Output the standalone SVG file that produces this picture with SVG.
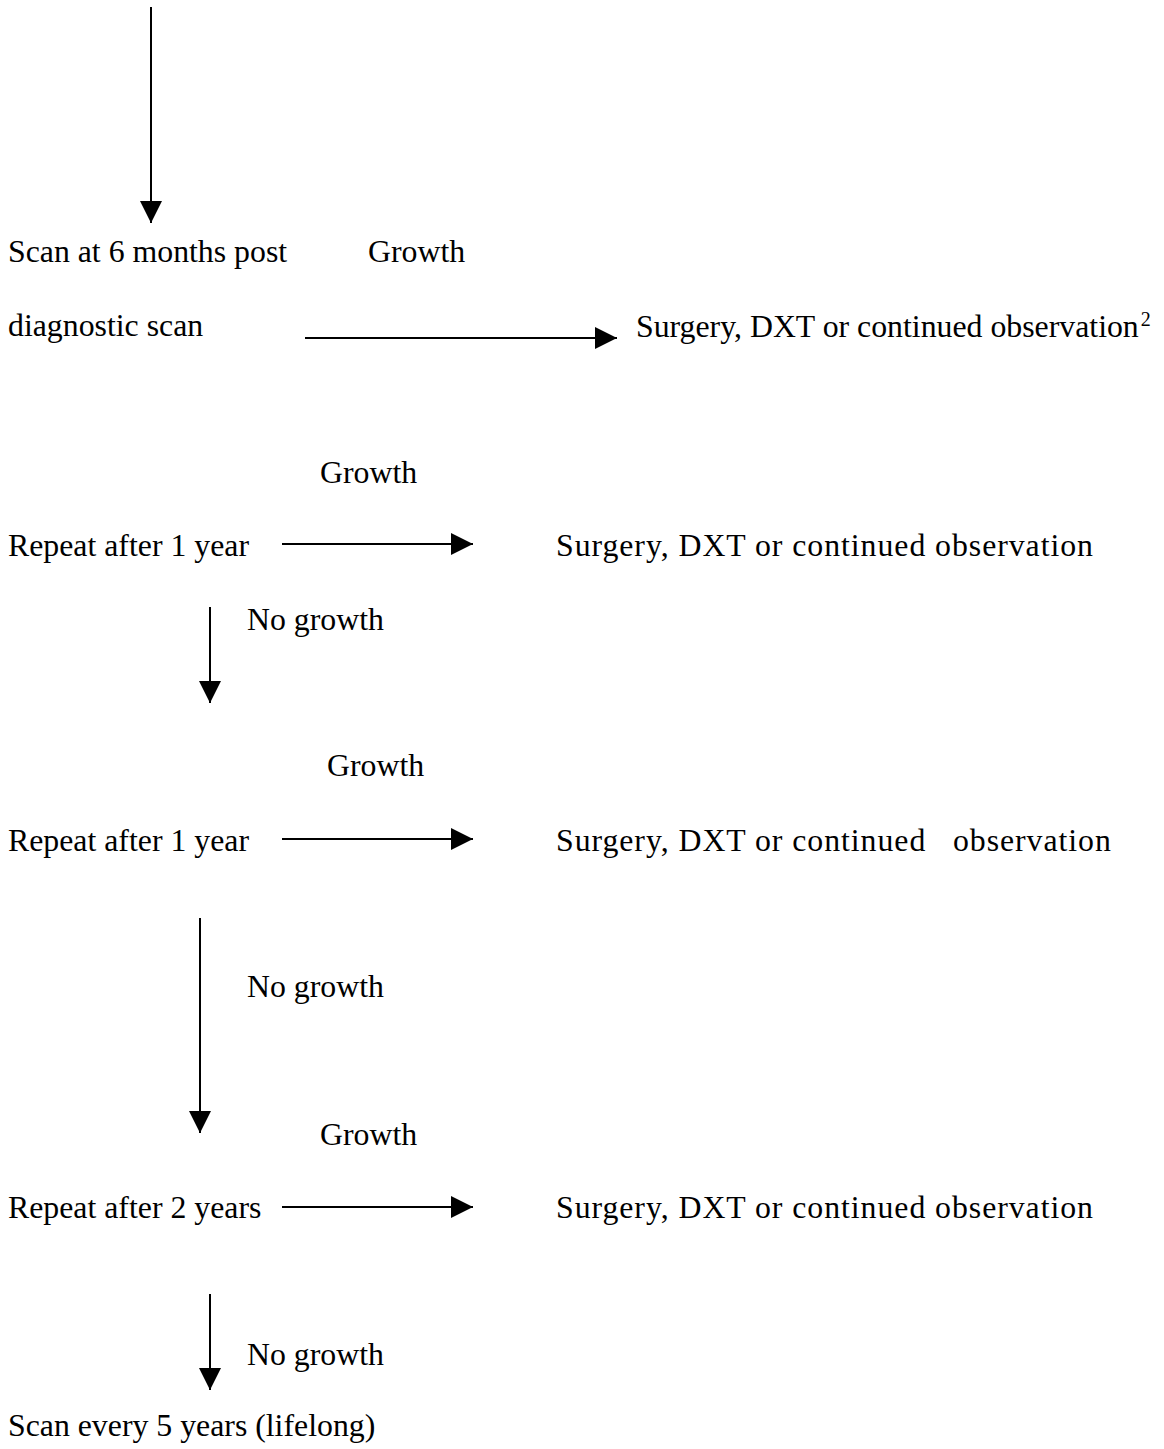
<svg xmlns="http://www.w3.org/2000/svg" width="1164" height="1449" viewBox="0 0 1164 1449">
<style>
text{font-family:"Liberation Serif","Times New Roman",serif;font-size:31.8px;fill:#000}
.r{letter-spacing:0.95px}
.c{stroke:#000;stroke-width:2;fill:none}
</style>
<defs>
<marker id="ah" markerUnits="userSpaceOnUse" markerWidth="22" markerHeight="22" refX="20" refY="10" orient="auto" viewBox="0 0 20 20">
<path d="M0,0 L20,10 L0,20 Z" fill="#000"/>
</marker>
</defs>
<rect width="1164" height="1449" fill="#fff"/>
<g id="connectors">
<line class="c" x1="151" y1="7" x2="151" y2="223" marker-end="url(#ah)"/>
<line class="c" x1="305" y1="338" x2="617" y2="338" marker-end="url(#ah)"/>
<line class="c" x1="282" y1="544" x2="473" y2="544" marker-end="url(#ah)"/>
<line class="c" x1="210" y1="607" x2="210" y2="703" marker-end="url(#ah)"/>
<line class="c" x1="282" y1="839" x2="473" y2="839" marker-end="url(#ah)"/>
<line class="c" x1="200" y1="918" x2="200" y2="1133" marker-end="url(#ah)"/>
<line class="c" x1="282" y1="1207" x2="473" y2="1207" marker-end="url(#ah)"/>
<line class="c" x1="210" y1="1294" x2="210" y2="1390" marker-end="url(#ah)"/>
</g>
<g id="n1"><text x="8" y="262">Scan at 6 months post</text><text x="8" y="336">diagnostic scan</text></g>
<g id="l1"><text x="368" y="262">Growth</text></g>
<g id="r1"><text x="636" y="337">Surgery, DXT or continued observation<tspan font-size="20" dx="2" dy="-11">2</tspan></text></g>
<g id="l2"><text x="320" y="483">Growth</text></g>
<g id="n2"><text x="8" y="556">Repeat after 1 year</text></g>
<g id="r2"><text class="r" x="556" y="556">Surgery, DXT or continued observation</text></g>
<g id="l3"><text x="247" y="630">No growth</text></g>
<g id="l4"><text x="327" y="776">Growth</text></g>
<g id="n3"><text x="8" y="851">Repeat after 1 year</text></g>
<g id="r3"><text class="r" x="556" y="851">Surgery, DXT or continued<tspan x="953">observation</tspan></text></g>
<g id="l5"><text x="247" y="997">No growth</text></g>
<g id="l6"><text x="320" y="1145">Growth</text></g>
<g id="n4"><text x="8" y="1218">Repeat after 2 years</text></g>
<g id="r4"><text class="r" x="556" y="1218">Surgery, DXT or continued observation</text></g>
<g id="l7"><text x="247" y="1365">No growth</text></g>
<g id="n5"><text x="8" y="1436">Scan every 5 years (lifelong)</text></g>
</svg>
